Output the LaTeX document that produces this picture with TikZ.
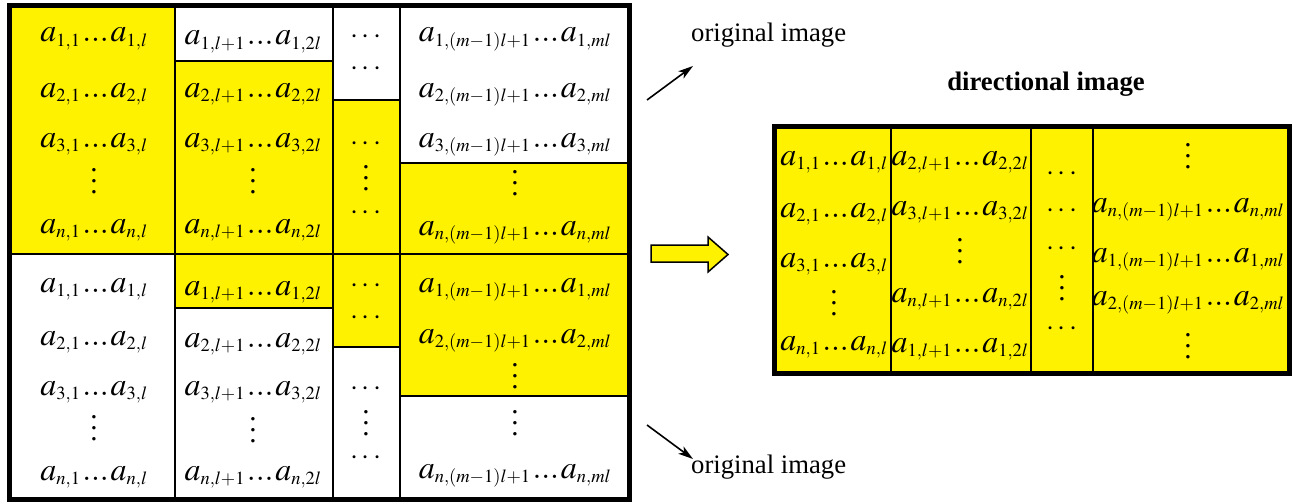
\documentclass[tikz,border=0pt]{standalone}
\usepackage{mathptmx}
\usepackage{fontspec}
\setmainfont{Liberation Serif}
\usetikzlibrary{arrows.meta}
\DeclareMathSizes{32}{32}{18.5}{14}
\newcommand{\blk}[3]{$a_{#1,#2}\mkern1mu...\mkern1mu a_{#1,#3}$}
\newcommand{\vdts}{\vbox{\baselineskip=11pt\lineskiplimit=0pt\hbox{.}\hbox{.}\hbox{.}}}
\tikzset{
  entry/.style={inner sep=0pt, anchor=base, font=\fontsize{32}{34}\selectfont},
  dotsentry/.style={inner sep=0pt, anchor=base, font=\fontsize{29}{32}\selectfont},
  gridline/.style={line width=2pt},
  frame/.style={line width=5pt},
  pointer/.style={-{Stealth[length=15pt, width=9pt, inset=4pt]}, line width=1.6pt},
  caption/.style={inner sep=0pt, anchor=base west, font=\fontsize{26.7}{30}\selectfont},
}

\begin{document}
\begin{tikzpicture}[x=1pt, y=-1pt]
\useasboundingbox (0,0) rectangle (1306,503);
% original image: yellow blocks first, then the grid over them
\fill[yellow] (9.5,5.5) rectangle (175,254);
\fill[yellow] (175,61) rectangle (333,254);
\fill[yellow] (333,100) rectangle (400,254);
\fill[yellow] (400,162.5) rectangle (629.5,254);
\fill[yellow] (175,254) rectangle (333,307.5);
\fill[yellow] (333,254) rectangle (400,347);
\fill[yellow] (400,254) rectangle (629.5,395.5);
\draw[gridline] (175,5.5) -- (175,499.5);
\draw[gridline] (333,5.5) -- (333,499.5);
\draw[gridline] (400,5.5) -- (400,499.5);
\draw[gridline] (9.5,254) -- (629.5,254);
\draw[gridline] (175,61) -- (333,61);
\draw[gridline] (333,100) -- (400,100);
\draw[gridline] (400,162.5) -- (629.5,162.5);
\draw[gridline] (175,307.5) -- (333,307.5);
\draw[gridline] (333,347) -- (400,347);
\draw[gridline] (400,395.5) -- (629.5,395.5);
\draw[frame] (9.5,5.5) rectangle (629.5,499.5);
% upper half
\node[entry] (uA1) at (94,42) {\blk{1}{1}{l}};
\node[entry] (uA2) at (94,97) {\blk{2}{1}{l}};
\node[entry] (uA3) at (94,147) {\blk{3}{1}{l}};
\node[dotsentry] (uAv) at (94,193) {\vdts};
\node[entry] (uAn) at (94,233) {\blk{n}{1}{l}};
\node[entry] (uB1) at (253,45) {\blk{1}{l+1}{2l}};
\node[entry] (uB2) at (253,97) {\blk{2}{l+1}{2l}};
\node[entry] (uB3) at (253,147) {\blk{3}{l+1}{2l}};
\node[dotsentry] (uBv) at (253,193) {\vdts};
\node[entry] (uBn) at (253,233) {\blk{n}{l+1}{2l}};
\node[dotsentry] (uC1) at (366,44) {$\cdots$};
\node[dotsentry] (uC2) at (366,75) {$\cdots$};
\node[dotsentry] (uC3) at (366,150) {$\cdots$};
\node[dotsentry] (uCv) at (366,190) {\vdts};
\node[dotsentry] (uCn) at (366,219) {$\cdots$};
\node[entry] (uD1) at (515,42) {\blk{1}{(m-1)l+1}{ml}};
\node[entry] (uD2) at (515,97) {\blk{2}{(m-1)l+1}{ml}};
\node[entry] (uD3) at (515,147) {\blk{3}{(m-1)l+1}{ml}};
\node[dotsentry] (uDv) at (515,195) {\vdts};
\node[entry] (uDn) at (515,235) {\blk{n}{(m-1)l+1}{ml}};
% lower half
\node[entry] (wA1) at (94,292) {\blk{1}{1}{l}};
\node[entry] (wA2) at (94,345) {\blk{2}{1}{l}};
\node[entry] (wA3) at (94,395) {\blk{3}{1}{l}};
\node[dotsentry] (wAv) at (94,440) {\vdts};
\node[entry] (wAn) at (94,480) {\blk{n}{1}{l}};
\node[entry] (wB1) at (253,295) {\blk{1}{l+1}{2l}};
\node[entry] (wB2) at (253,347) {\blk{2}{l+1}{2l}};
\node[entry] (wB3) at (253,395) {\blk{3}{l+1}{2l}};
\node[dotsentry] (wBv) at (253,442) {\vdts};
\node[entry] (wBn) at (253,480) {\blk{n}{l+1}{2l}};
\node[dotsentry] (wC1) at (366,292) {$\cdots$};
\node[dotsentry] (wC2) at (366,324) {$\cdots$};
\node[dotsentry] (wC3) at (366,395) {$\cdots$};
\node[dotsentry] (wCv) at (366,435) {\vdts};
\node[dotsentry] (wCn) at (366,464) {$\cdots$};
\node[entry] (wD1) at (515,292) {\blk{1}{(m-1)l+1}{ml}};
\node[entry] (wD2) at (515,343) {\blk{2}{(m-1)l+1}{ml}};
\node[dotsentry] (wDv) at (515,388) {\vdts};
\node[dotsentry] (wDw) at (515,435) {\vdts};
\node[entry] (wDn) at (515,478) {\blk{n}{(m-1)l+1}{ml}};
% pointers to the two halves
\node[caption] (origup) at (691,42) {original image};
\node[caption] (origdown) at (691,473) {original image};
\coordinate (upfrom) at (647,100);
\coordinate (upto) at (693,66);
\coordinate (downfrom) at (647,425);
\coordinate (downto) at (693,459);
\draw[pointer] (upfrom) -- (upto);
\draw[pointer] (downfrom) -- (downto);
% conversion arrow
\draw[line width=1.5pt, fill=yellow, line join=miter] (651,245) -- (708,245) -- (708,237)
  -- (728,254.5) -- (708,272) -- (708,262) -- (651,262) -- cycle;
% directional image
\node[inner sep=0pt, anchor=base, font=\bfseries\fontsize{26.7}{30}\selectfont] (title) at (1046,90) {directional image};
\fill[yellow] (774.5,126) rectangle (1289.5,373);
\draw[gridline] (891,126) -- (891,373);
\draw[gridline] (1031,126) -- (1031,373);
\draw[gridline] (1093,126) -- (1093,373);
\draw[frame] (774.5,126) rectangle (1289.5,373);
\node[entry] (rA1) at (834,165) {\blk{1}{1}{l}};
\node[entry] (rA2) at (834,217) {\blk{2}{1}{l}};
\node[entry] (rA3) at (834,267) {\blk{3}{1}{l}};
\node[dotsentry] (rAv) at (834,315) {\vdts};
\node[entry] (rAn) at (834,350) {\blk{n}{1}{l}};
\node[entry] (rB1) at (960,165) {\blk{2}{l+1}{2l}};
\node[entry] (rB2) at (960,215) {\blk{3}{l+1}{2l}};
\node[dotsentry] (rBv) at (960,263) {\vdts};
\node[entry] (rB3) at (960,302) {\blk{n}{l+1}{2l}};
\node[entry] (rBn) at (960,352) {\blk{1}{l+1}{2l}};
\node[dotsentry] (rC1) at (1062,180) {$\cdots$};
\node[dotsentry] (rC2) at (1062,217) {$\cdots$};
\node[dotsentry] (rC3) at (1062,255) {$\cdots$};
\node[dotsentry] (rCv) at (1062,300) {\vdts};
\node[dotsentry] (rCn) at (1062,335) {$\cdots$};
\node[dotsentry] (rDv) at (1188,168) {\vdts};
\node[entry] (rD1) at (1188,212) {\blk{n}{(m-1)l+1}{ml}};
\node[entry] (rD2) at (1188,262) {\blk{1}{(m-1)l+1}{ml}};
\node[entry] (rD3) at (1188,305) {\blk{2}{(m-1)l+1}{ml}};
\node[dotsentry] (rDw) at (1188,358) {\vdts};
\end{tikzpicture}
\end{document}
